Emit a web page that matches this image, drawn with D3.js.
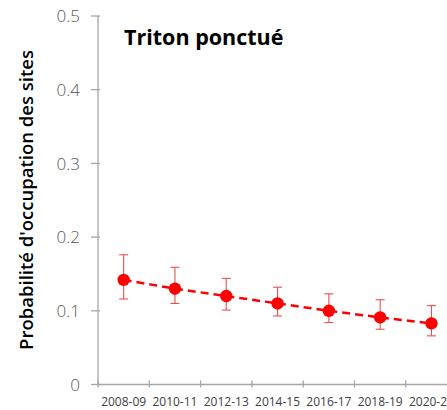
<!DOCTYPE html>
<html><head><meta charset="utf-8">
<script src="https://cdn.jsdelivr.net/npm/d3@7"></script>
<style>body{margin:0;background:#fff}svg{display:block}</style>
</head><body>
<script>
const categories = ["2008-09","2010-11","2012-13","2014-15","2016-17","2018-19","2020-21"];
const values = [0.142,0.130,0.120,0.110,0.100,0.091,0.083];
const lower = [0.116,0.110,0.101,0.093,0.084,0.075,0.066];
const upper = [0.176,0.159,0.144,0.132,0.123,0.115,0.107];
const yTicks = [0,0.1,0.2,0.3,0.4,0.5];
const yTickLabels = ["0","0.1","0.2","0.3","0.4","0.5"];
const title = "Triton ponctué";
const yTitle = "Probabilité d'occupation des sites";

const W=447,H=410;
const svg=d3.select("body").append("svg").attr("width",W).attr("height",H);
const font="'Open Sans','Noto Sans',sans-serif";
const x=d3.scaleBand().domain(categories).range([98,98+7*51.3]);
const y=d3.scaleLinear().domain([0,0.5]).range([384.5,16]);
const axisCol="#a6a6a6";

// y axis
svg.append("line").attr("x1",98).attr("x2",98).attr("y1",y(0.5)).attr("y2",y(0)).attr("stroke",axisCol).attr("stroke-width",1.3);
yTicks.forEach((t,i)=>{
  svg.append("line").attr("x1",91).attr("x2",100).attr("y1",y(t)).attr("y2",y(t)).attr("stroke",axisCol).attr("stroke-width",1.3);
  svg.append("text").attr("x",80).attr("y",y(t)).attr("dy","0.36em").attr("text-anchor","end")
    .attr("font-family",font).attr("font-size",17).attr("fill","#595959").attr("font-weight",300).text(yTickLabels[i]);
});
// x axis
svg.append("line").attr("x1",98).attr("x2",W).attr("y1",y(0)).attr("y2",y(0)).attr("stroke",axisCol).attr("stroke-width",1.3);
categories.forEach((c,i)=>{
  const xt=x(c);
  svg.append("line").attr("x1",xt).attr("x2",xt).attr("y1",y(0)-4).attr("y2",y(0)+3).attr("stroke",axisCol).attr("stroke-width",1.3);
  svg.append("text").attr("x",xt+x.bandwidth()/2).attr("y",405.5).attr("text-anchor","middle")
    .attr("font-family",font).attr("font-size",12).attr("fill","#404040").attr("font-weight",400).text(c);
});
const cx=c=>x(c)+x.bandwidth()/2;
// dashed line
svg.append("path").datum(values).attr("fill","none").attr("stroke","#ff0000").attr("stroke-width",2.5)
  .attr("stroke-dasharray","8,5")
  .attr("d",d3.line().x((d,i)=>cx(categories[i])).y(d=>y(d)));
// error bars
categories.forEach((c,i)=>{
  const g=svg.append("g").attr("stroke","#e8514f").attr("stroke-width",1.1);
  g.append("line").attr("x1",cx(c)).attr("x2",cx(c)).attr("y1",y(lower[i])).attr("y2",y(upper[i]));
  g.append("line").attr("x1",cx(c)-4.5).attr("x2",cx(c)+4.5).attr("y1",y(lower[i])).attr("y2",y(lower[i]));
  g.append("line").attr("x1",cx(c)-4.5).attr("x2",cx(c)+4.5).attr("y1",y(upper[i])).attr("y2",y(upper[i]));
});
// dots
svg.selectAll("circle.d").data(values).enter().append("circle")
  .attr("cx",(d,i)=>cx(categories[i])).attr("cy",d=>y(d)).attr("r",6.2).attr("fill","#ff0000");
// title
svg.append("text").attr("x",124).attr("y",45).attr("font-family",font).attr("font-weight",700)
  .attr("font-size",21.5).attr("fill","#000").text(title);
// y title
svg.append("text").attr("transform","translate(33,200) rotate(-90)").attr("text-anchor","middle")
  .attr("font-family",font).attr("font-size",18.5).attr("font-weight",600).attr("fill","#000").text(yTitle);
</script>
</body></html>
